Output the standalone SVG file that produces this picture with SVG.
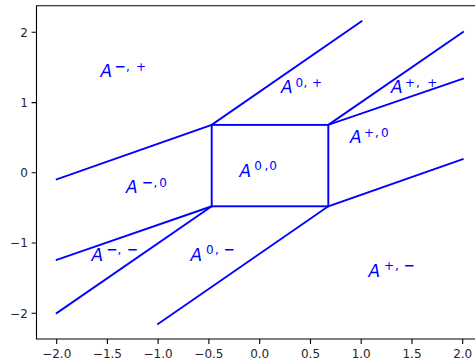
<svg xmlns="http://www.w3.org/2000/svg" width="475" height="363" viewBox="0 0 475 363">
<style>
.ax{fill:none;stroke:#000;stroke-width:1.1}
.tk{stroke:#000;stroke-width:1.1}
.tl{font-family:"DejaVu Sans",sans-serif;font-size:12px;fill:#262626}
.ln{fill:none;stroke:#0000ff;stroke-width:1.9;stroke-linecap:square}
.A{font-family:"DejaVu Sans",sans-serif;font-style:italic;font-size:17px;fill:#0000ff}
.s{font-family:"DejaVu Sans",sans-serif;font-size:12px;fill:#0000ff}
.m{font-weight:bold;font-size:13.5px}
</style>
<rect width="475" height="363" fill="#fff"/>
<g id="axes">
<path class="ax" d="M476,5.7 H36.5 V339 H476"/>
<g id="yticks">
<path class="tk" d="M31.6,32.3H36.5M31.6,102.6H36.5M31.6,172.8H36.5M31.6,243H36.5M31.6,313.2H36.5"/>
<g class="tl" text-anchor="end">
<text x="27.8" y="36.7">2</text>
<text x="27.8" y="107">1</text>
<text x="27.8" y="177.2">0</text>
<text x="27.8" y="247.4">−1</text>
<text x="27.8" y="317.6">−2</text>
</g>
</g>
<g id="xticks">
<path class="tk" d="M56.7,339V344M107.4,339V344M158.1,339V344M208.9,339V344M259.7,339V344M310.5,339V344M361.2,339V344M412,339V344M462.7,339V344"/>
<g class="tl" text-anchor="middle">
<text x="56.7" y="357.5">−2.0</text>
<text x="107.4" y="357.5">−1.5</text>
<text x="158.1" y="357.5">−1.0</text>
<text x="208.9" y="357.5">−0.5</text>
<text x="259.7" y="357.5">0.0</text>
<text x="310.5" y="357.5">0.5</text>
<text x="361.2" y="357.5">1.0</text>
<text x="412" y="357.5">1.5</text>
<text x="462.7" y="357.5">2.0</text>
</g>
</g>
</g>
<g id="connectors">
<rect class="ln" x="211.7" y="124.9" width="116.6" height="81.4"/>
<path class="ln" d="M56.7,179.4 L211.7,124.9 L361.5,21.3"/>
<path class="ln" d="M56.7,259.8 L211.7,206.3"/>
<path class="ln" d="M56.7,313.1 L211.7,206.3"/>
<path class="ln" d="M158,324 L328.3,206.3 L462.7,159.2"/>
<path class="ln" d="M328.3,124.9 L463,32"/>
<path class="ln" d="M328.3,124.9 L463,78.7"/>
</g>
<g id="region-mp"><text class="A" x="100.5" y="77.3">A</text><text class="s" y="70.5"><tspan class="m" x="114.5">−</tspan><tspan x="126">,</tspan><tspan x="136">+</tspan></text></g>
<g id="region-0p"><text class="A" x="281" y="93.3">A</text><text class="s" y="86.5"><tspan x="295.5">0</tspan><tspan x="303.5">,</tspan><tspan x="312">+</tspan></text></g>
<g id="region-pp"><text class="A" x="391" y="93.3">A</text><text class="s" y="86.5"><tspan x="405">+</tspan><tspan x="416">,</tspan><tspan x="427.3">+</tspan></text></g>
<g id="region-p0"><text class="A" x="350" y="143.3">A</text><text class="s" y="136.5"><tspan x="364">+</tspan><tspan x="375">,</tspan><tspan x="381">0</tspan></text></g>
<g id="region-m0"><text class="A" x="126" y="193.3">A</text><text class="s" y="186.5"><tspan class="m" x="141.8">−</tspan><tspan x="153.5">,</tspan><tspan x="159.3">0</tspan></text></g>
<g id="region-00"><text class="A" x="239.5" y="177.3">A</text><text class="s" y="170.3"><tspan x="254.3">0</tspan><tspan x="264.5">,</tspan><tspan x="269.3">0</tspan></text></g>
<g id="region-mm"><text class="A" x="91.5" y="260.7">A</text><text class="s" y="253.9"><tspan class="m" x="106.2">−</tspan><tspan x="117.5">,</tspan><tspan class="m" x="126.8">−</tspan></text></g>
<g id="region-0m"><text class="A" x="190.5" y="260.7">A</text><text class="s" y="253.9"><tspan x="206">0</tspan><tspan x="215">,</tspan><tspan class="m" x="223.5">−</tspan></text></g>
<g id="region-pm"><text class="A" x="368.5" y="276.7">A</text><text class="s" y="269.9"><tspan x="384">+</tspan><tspan x="395">,</tspan><tspan class="m" x="403.5">−</tspan></text></g>
</svg>
